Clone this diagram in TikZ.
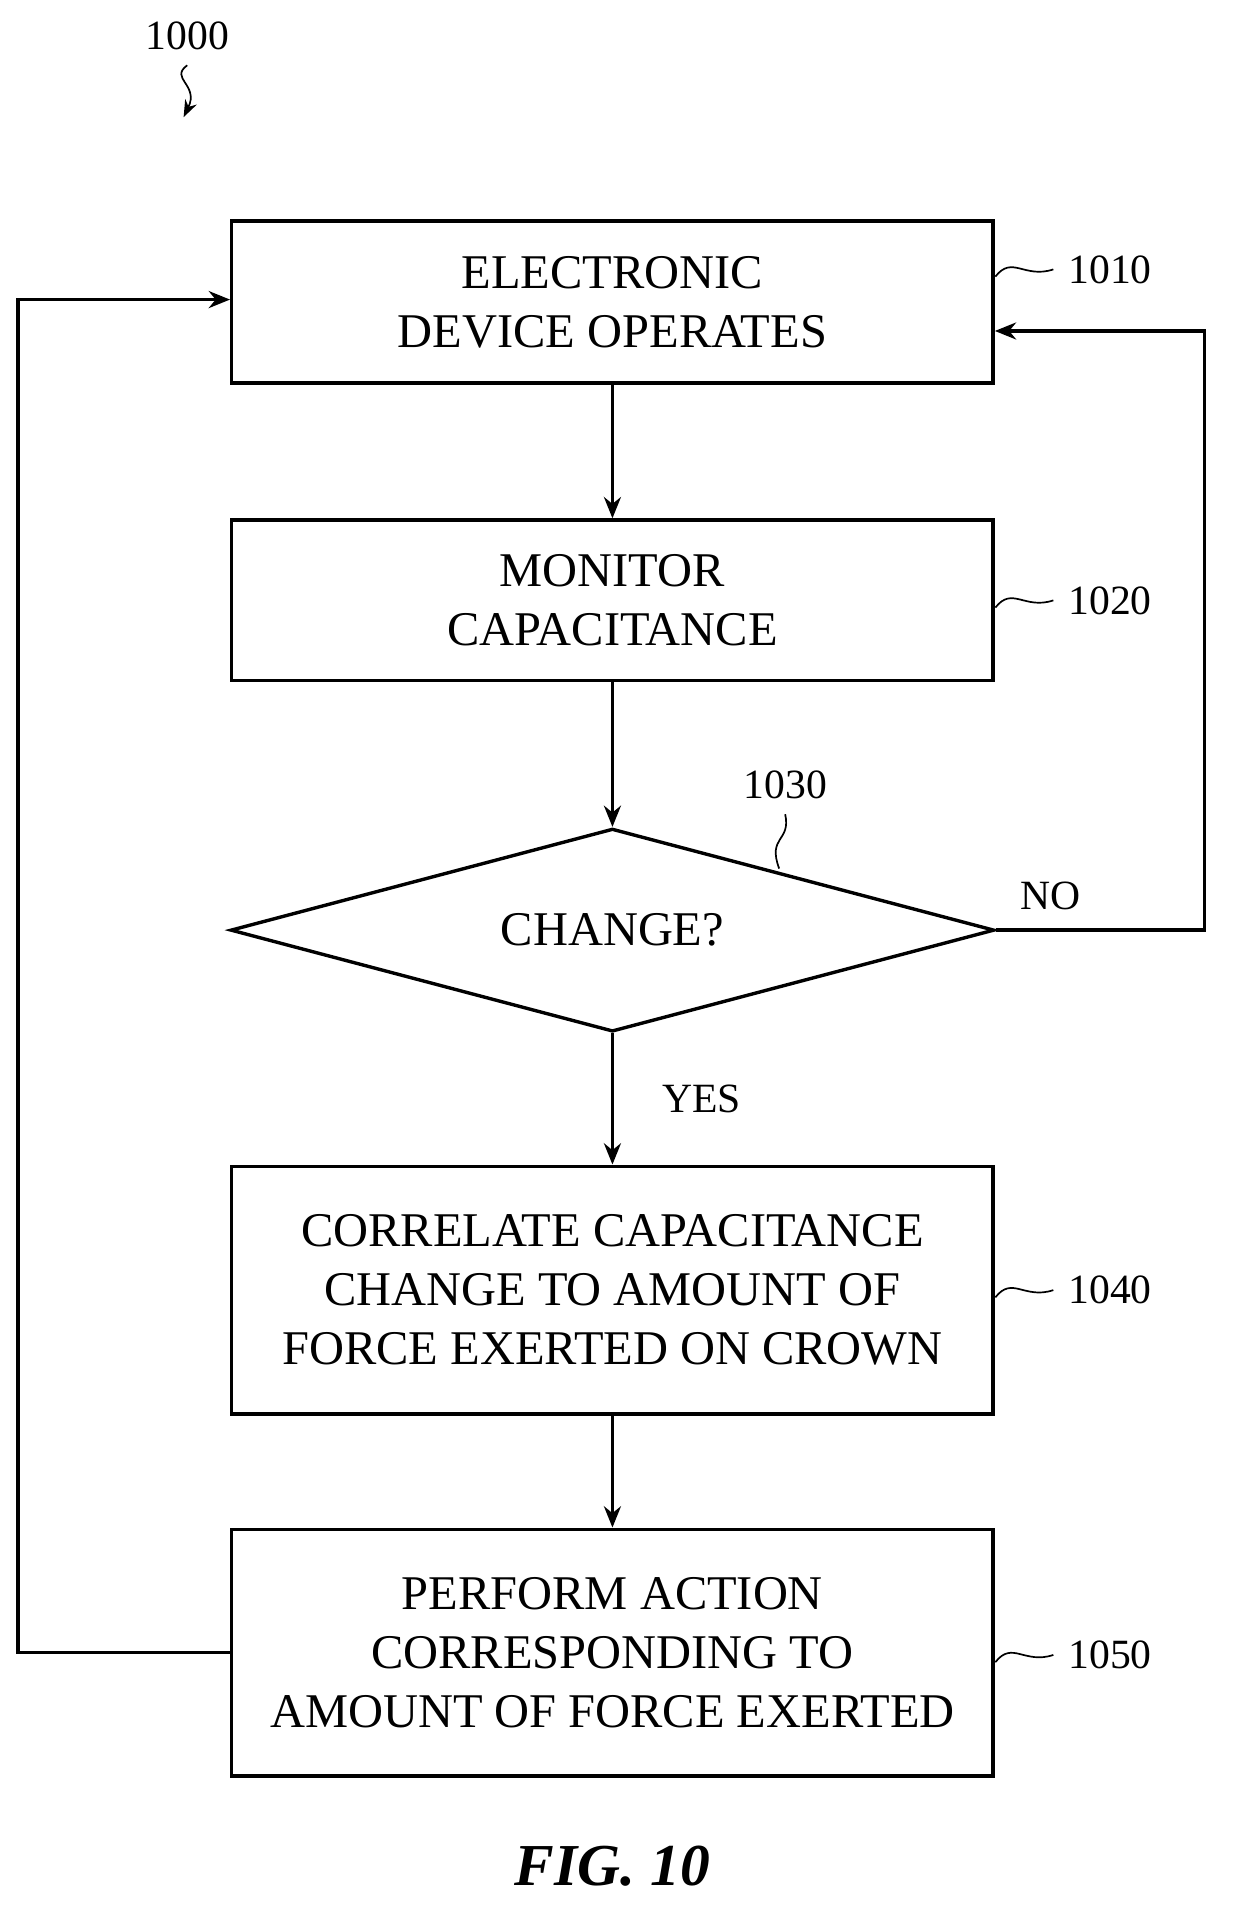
\documentclass[tikz,border=0pt]{standalone}
\usepackage{fontspec}
\setmainfont{Liberation Serif}
\usetikzlibrary{shapes.geometric,arrows.meta}
\begin{document}
\begin{tikzpicture}[x=0.01cm,y=-0.01cm,
    box/.style={draw,thick,minimum width=6.3cm,align=center,font=\fontsize{11.4}{13.9}\selectfont},
    flow/.style={thick,-{Stealth[length=5pt,width=4pt]}},
    lbl/.style={font=\fontsize{9.8}{11}\selectfont}]
	\useasboundingbox (0,0) rectangle (1024,1582);
	
	\node[box,minimum height=1.34cm] (operate) at (507,250) {ELECTRONIC\\DEVICE OPERATES};
	\node[box,minimum height=1.33cm] (monitor) at (507,497) {MONITOR\\CAPACITANCE};
	\node[draw,thick,diamond,aspect=3.76,minimum width=6.32cm,minimum height=1.68cm,inner sep=0pt,
	    font=\fontsize{11.4}{13.9}\selectfont] (change) at (507,770) {CHANGE?};
	\node[box,minimum height=2.05cm] (correlate) at (507,1068) {CORRELATE CAPACITANCE\\CHANGE TO AMOUNT OF\\FORCE EXERTED ON CROWN};
	\node[box,minimum height=2.04cm] (perform) at (507,1368) {PERFORM ACTION\\CORRESPONDING TO\\AMOUNT OF FORCE EXERTED};
	
	\draw[flow] (operate) -- (monitor);
	\draw[flow] (monitor) -- (change);
	\draw[flow] (change) -- node[right,lbl,xshift=8pt]{YES} (correlate);
	\draw[flow] (correlate) -- (perform);
	
	% loops back to the start
	\coordinate (nocorner) at (997,770);
	\draw[flow] (change.east) -- (nocorner) -- (997,274) -- (operate.east |- 0,274);
	\node[lbl] (no) at (870,742) {NO};
	\coordinate (backcorner) at (15,1368);
	\draw[flow] (perform.west) -- (backcorner) -- (15,248) -- (operate.west |- 0,248);
	
	% reference numerals
	\foreach \n/\y in {1010/223,1020/497,1040/1068,1050/1370}{
	    \node[lbl,anchor=west] (ref\n) at (872,\y) {\n};
	    \draw[thin] (824,\y+6) .. controls (838,\y-12) and (848,\y+8) .. (ref\n.west);
	}
	\node[lbl] (ref1030) at (650,650) {1030};
	\draw[thin] (ref1030.south) .. controls (655,697) and (635,692) .. (645,719);
	\node[lbl] (ref1000) at (155,30) {1000};
	\draw[thin,-{Stealth[length=4pt,width=3pt]}] (ref1000.south) .. controls (140,65) and (165,70) .. (152,97);
	
	\node[font=\fontsize{14}{16}\selectfont\bfseries\itshape] (fig) at (507,1545) {FIG. 10};
\end{tikzpicture}
\end{document}
